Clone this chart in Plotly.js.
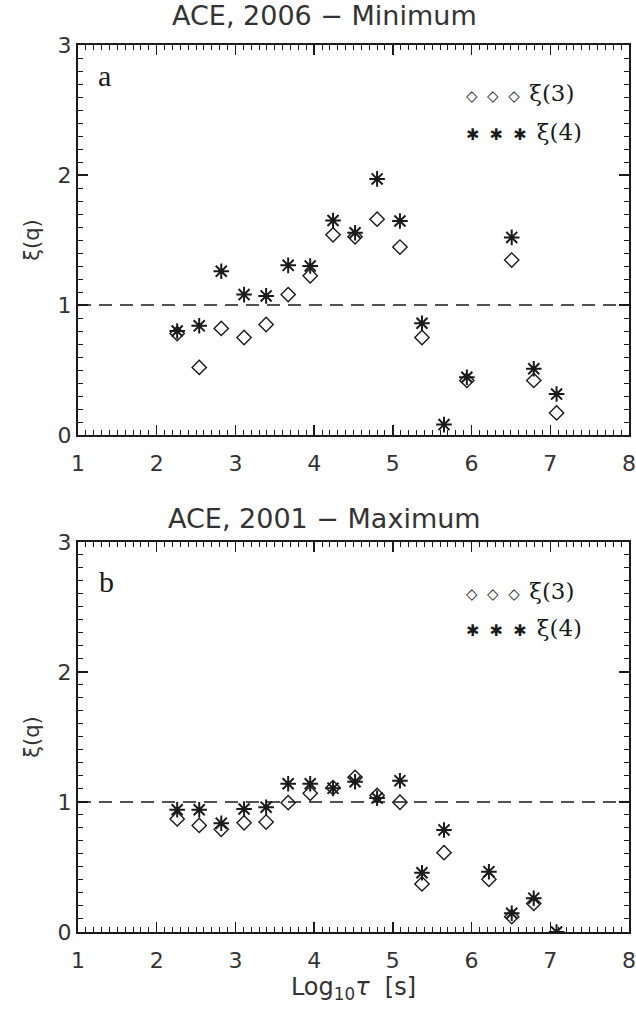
<!DOCTYPE html>
<html><head><meta charset="utf-8">
<script src="https://cdn.plot.ly/plotly-3.0.1.min.js"></script>
<style>html,body{margin:0;padding:0;background:#fff}</style>
</head><body>
<div id="chart" style="width:636px;height:1015px"></div>
<script>
// Log10 tau [s]
const logTau = [2.26, 2.54, 2.82, 3.11, 3.39, 3.67, 3.95, 4.24, 4.52, 4.80, 5.09, 5.37, 5.65, 5.94, 6.22, 6.51, 6.79, 7.08];

// Panel a: ACE, 2006 - Minimum
const min2006_xi3 = [0.78, 0.52, 0.82, 0.75, 0.85, 1.08, 1.225, 1.54, 1.525, 1.66, 1.446, 0.75, null, 0.42, null, 1.346, 0.42, 0.17];
const min2006_xi4 = [0.80, 0.84, 1.26, 1.08, 1.07, 1.305, 1.30, 1.65, 1.556, 1.97, 1.646, 0.86, 0.08, 0.444, null, 1.52, 0.51, 0.315];

// Panel b: ACE, 2001 - Maximum
const max2001_xi3 = [0.87, 0.82, 0.79, 0.84, 0.846, 0.995, 1.067, 1.11, 1.19, 1.05, 0.998, 0.37, 0.61, null, 0.405, 0.118, 0.22, null];
const max2001_xi4 = [0.94, 0.94, 0.836, 0.946, 0.96, 1.14, 1.14, 1.105, 1.156, 1.03, 1.164, 0.456, 0.785, null, 0.464, 0.144, 0.26, 0.0];

const panelTitles = ['ACE, 2006 \u2212 Minimum', 'ACE, 2001 \u2212 Maximum'];
const panelLabels = ['a', 'b'];
const seriesNames = ['\u03BE(3)', '\u03BE(4)'];
const refLevel = 1;
const xTickVals = [1, 2, 3, 4, 5, 6, 7, 8];
const yTickVals = [0, 1, 2, 3];

const INK = '#1a1a1a';
const TXT = '#333';
const SANS = 'DejaVu Sans, sans-serif';
const SERIF = 'Liberation Serif, DejaVu Serif, serif';
const WSERIF = 'DejaVu Serif, serif';

function diamonds(y, xa, ya) {
  return {x: logTau, y: y, xaxis: xa, yaxis: ya, type: 'scatter', mode: 'markers',
    marker: {symbol: 'diamond-open', size: 11, color: INK, line: {width: 1.4, color: INK}},
    cliponaxis: true, showlegend: false, hoverinfo: 'x+y'};
}
function stars(y, xa, ya) {
  return {x: logTau, y: y, xaxis: xa, yaxis: ya, type: 'scatter', mode: 'markers',
    marker: {symbol: 'asterisk-open', size: 13, color: INK, line: {width: 2, color: INK}},
    cliponaxis: true, showlegend: false, hoverinfo: 'x+y'};
}

const data = [
  diamonds(min2006_xi3, 'x2', 'y2'),
  stars(min2006_xi4, 'x2', 'y2'),
  diamonds(max2001_xi3, 'x', 'y'),
  stars(max2001_xi4, 'x', 'y')
];

function xAxis(anchor, withTitle) {
  const ax = {
    anchor: anchor, range: [1, 8], tickvals: xTickVals, ticks: 'inside', ticklen: 10, tickwidth: 1.3,
    tickcolor: INK, showline: true, linecolor: INK, linewidth: 2, mirror: 'allticks',
    showgrid: false, zeroline: false, ticklabelstandoff: 8,
    tickfont: {family: SANS, size: 22, color: TXT},
    minor: {dtick: 0.1, ticks: 'inside', ticklen: 5, tickwidth: 1, tickcolor: INK, showgrid: false}
  };
  if (withTitle) ax.title = {text: 'Log<sub>10</sub><i>\u03C4</i>  [s]', font: {family: SANS, size: 24, color: TXT}, standoff: 2};
  return ax;
}
function yAxis(anchor, domain) {
  return {
    anchor: anchor, domain: domain, range: [0, 3], tickvals: yTickVals, ticks: 'inside', ticklen: 10, tickwidth: 1.3,
    tickcolor: INK, showline: true, linecolor: INK, linewidth: 2, mirror: 'allticks',
    showgrid: false, zeroline: false,
    tickfont: {family: SANS, size: 22, color: TXT},
    title: {text: '\u03BE(q)', font: {family: SANS, size: 21, color: TXT}, standoff: 12},
    minor: {dtick: 0.1, ticks: 'inside', ticklen: 5, tickwidth: 1, tickcolor: INK, showgrid: false}
  };
}

const topDomain = [0.5603, 1];
const botDomain = [0, 0.4397];

const GAP = '\u00A0\u00A0';
function legendLines(yTop, yBot) {
  const sym3 = '<span style="font-size:15px">\u25C7' + GAP + '\u25C7' + GAP + '\u25C7' + GAP + '</span>';
  const sym4 = '<span style="font-size:16px">\u2731' + GAP + '\u2731' + GAP + '\u2731' + GAP + '</span>';
  return [
    {xref: 'paper', yref: 'paper', x: 0.70, y: yTop, xanchor: 'left', yanchor: 'middle', showarrow: false,
     text: sym3 + '<span style="font-family:' + WSERIF + ';font-size:23px">' + seriesNames[0] + '</span>', font: {family: SANS, size: 22, color: INK}},
    {xref: 'paper', yref: 'paper', x: 0.70, y: yBot, xanchor: 'left', yanchor: 'middle', showarrow: false,
     text: sym4 + '<span style="font-family:' + WSERIF + ';font-size:23px">' + seriesNames[1] + '</span>', font: {family: SANS, size: 22, color: INK}}
  ];
}

const annotations = [
  {xref: 'paper', yref: 'paper', x: 0.448, y: 1.033, xanchor: 'center', yanchor: 'middle', showarrow: false,
   text: panelTitles[0], font: {family: SANS, size: 27, color: TXT}},
  {xref: 'paper', yref: 'paper', x: 0.448, y: 0.4667, xanchor: 'center', yanchor: 'middle', showarrow: false,
   text: panelTitles[1], font: {family: SANS, size: 27, color: TXT}},
  {xref: 'paper', yref: 'paper', x: 0.048, y: 0.966, xanchor: 'center', yanchor: 'middle', showarrow: false,
   text: panelLabels[0], font: {family: SERIF, size: 30, color: INK}},
  {xref: 'paper', yref: 'paper', x: 0.052, y: 0.395, xanchor: 'center', yanchor: 'middle', showarrow: false,
   text: panelLabels[1], font: {family: SERIF, size: 30, color: INK}}
].concat(legendLines(0.9459, 0.9019), legendLines(0.3844, 0.3427));

const shapes = [
  {type: 'line', xref: 'x2 domain', yref: 'y2', x0: 0, x1: 1, y0: refLevel, y1: refLevel,
   line: {color: INK, width: 1.3, dash: '13px,8px'}},
  {type: 'line', xref: 'x domain', yref: 'y', x0: 0, x1: 1, y0: refLevel, y1: refLevel,
   line: {color: INK, width: 1.3, dash: '13px,8px'}}
];

const layout = {
  width: 636, height: 1015,
  margin: {l: 78, r: 7, t: 45, b: 83},
  paper_bgcolor: '#fff', plot_bgcolor: '#fff',
  showlegend: false,
  xaxis: xAxis('y', true),
  yaxis: yAxis('x', botDomain),
  xaxis2: xAxis('y2', false),
  yaxis2: yAxis('x2', topDomain),
  annotations: annotations,
  shapes: shapes
};

Plotly.newPlot('chart', data, layout, {staticPlot: true, displayModeBar: false});
</script>
</body></html>
